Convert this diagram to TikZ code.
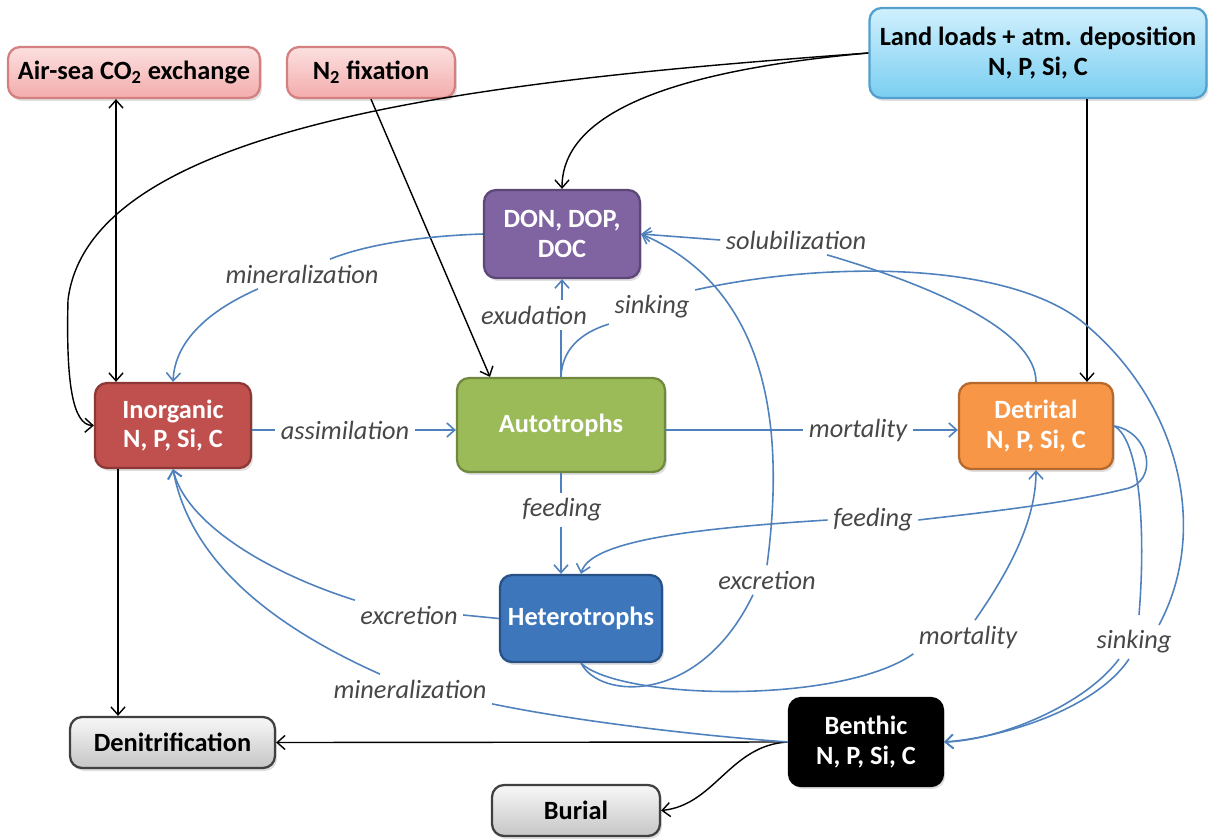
\documentclass[tikz,border=0pt]{standalone}
\usepackage{fontspec}
\setmainfont{Carlito}
\usetikzlibrary{arrows.meta,shadows}

\definecolor{linkblue}{RGB}{79,129,189}
\definecolor{pinktop}{RGB}{252,224,224}
\definecolor{pinkbot}{RGB}{243,172,172}
\definecolor{pinkline}{RGB}{212,128,128}
\definecolor{skytop}{RGB}{208,240,253}
\definecolor{skybot}{RGB}{122,206,241}
\definecolor{skyline}{RGB}{82,160,205}
\definecolor{donfill}{RGB}{128,100,162}
\definecolor{donline}{RGB}{92,71,118}
\definecolor{inorgfill}{RGB}{192,80,77}
\definecolor{inorgline}{RGB}{140,56,54}
\definecolor{autofill}{RGB}{155,187,89}
\definecolor{autoline}{RGB}{113,137,63}
\definecolor{detrfill}{RGB}{247,150,70}
\definecolor{detrline}{RGB}{182,105,44}
\definecolor{hetfill}{RGB}{62,118,188}
\definecolor{hetline}{RGB}{40,82,135}

\tikzset{
  box/.style={draw, rounded corners=0.24cm, line width=1.3pt, inner sep=0pt, align=center,
    font=\fontsize{15}{17}\selectfont\bfseries, text=white,
    drop shadow={opacity=0.25, shadow xshift=0.04cm, shadow yshift=-0.06cm}},
  pinkbox/.style={box, top color=pinktop, bottom color=pinkbot, draw=pinkline, text=black},
  skybox/.style={box, top color=skytop, bottom color=skybot, draw=skyline, text=black},
  graybox/.style={box, top color=gray!6, bottom color=gray!45, draw=black!75, text=black},
  lbl/.style={font=\fontsize{15}{17}\selectfont\itshape, text=black!72, inner sep=3pt},
  flowline/.style={draw=linkblue, line width=0.9pt},
  flow/.style={flowline, -{Straight Barb[length=4.5pt,width=8pt]}},
  arr/.style={draw=black, line width=0.8pt, -{Straight Barb[length=4.5pt,width=8pt]}},
  twoarr/.style={arr, {Straight Barb[length=4.5pt,width=8pt]}-{Straight Barb[length=4.5pt,width=8pt]}}
}

\begin{document}
\begin{tikzpicture}[x=0.02cm, y=-0.02cm]
  \useasboundingbox (0,0) rectangle (1208,839);

  \node[pinkbox, minimum width=5.04cm, minimum height=1.02cm] (airsea) at (134,72.5) {Air-sea CO\textsubscript{2} exchange};
  \node[pinkbox, minimum width=3.36cm, minimum height=1.02cm] (n2fix) at (371,72.5) {N\textsubscript{2} fixation};
  \node[skybox, minimum width=6.74cm, minimum height=1.80cm] (land) at (1038,53) {Land loads + atm. deposition\\N, P, Si, C};
  \node[box, fill=donfill, draw=donline, minimum width=3.12cm, minimum height=1.76cm] (don) at (562,234) {DON, DOP,\\DOC};
  \node[box, fill=inorgfill, draw=inorgline, minimum width=3.12cm, minimum height=1.70cm] (inorg) at (173,425.5) {Inorganic\\N, P, Si, C};
  \node[box, fill=autofill, draw=autoline, minimum width=4.16cm, minimum height=1.88cm] (auto) at (561,425) {Autotrophs};
  \node[box, fill=detrfill, draw=detrline, minimum width=3.08cm, minimum height=1.72cm] (detr) at (1036,426) {Detrital\\N, P, Si, C};
  \node[box, fill=hetfill, draw=hetline, minimum width=3.24cm, minimum height=1.74cm] (hetero) at (581,618.5) {Heterotrophs};
  \node[graybox, minimum width=4.10cm, minimum height=1.02cm] (denitr) at (172.5,742.5) {Denitrification};
  \node[graybox, minimum width=3.36cm, minimum height=1.02cm] (burial) at (576,810.5) {Burial};
  \node[box, fill=black, draw=black, minimum width=3.08cm, minimum height=1.76cm] (benthic) at (866,742) {Benthic\\N, P, Si, C};

  \node[lbl] (lminA) at (302,274) {mineralization};
  \node[lbl] (lexud) at (534,315) {exudation};
  \node[lbl] (lsinkA) at (652,307) {sinking};
  \node[lbl] (lsolu) at (796,240) {solubilization};
  \node[lbl] (lassim) at (345,430) {assimilation};
  \node[lbl] (lmortA) at (858,430) {mortality};
  \node[lbl] (lfeedA) at (562,510) {feeding};
  \node[lbl] (lfeedB) at (873,520) {feeding};
  \node[lbl] (lexcrA) at (409,615) {excretion};
  \node[lbl] (lexcrB) at (767,580) {excretion};
  \node[lbl] (lmortB) at (968,637) {mortality};
  \node[lbl] (lsinkB) at (1134,642) {sinking};
  \node[lbl] (lminB) at (410,689) {mineralization};

  \draw[twoarr] ([xshift=-0.36cm]airsea.south) -- ([xshift=-0.36cm]airsea.south |- inorg.north);
  \draw[arr] (n2fix.south) -- ([xshift=-1.42cm]auto.north);
  \draw[arr] (land.west) .. controls (500,80) and (90,120) .. (68,300) .. controls (66,380) and (72,425) .. (inorg.west);
  \draw[arr] (land.west) .. controls (680,70) and (562,110) .. (don.north);
  \draw[arr] ([xshift=0.98cm]land.south) -- ([xshift=0.98cm]land.south |- detr.north);
  \draw[arr] ([xshift=-1.1cm]inorg.south) -- ([xshift=-1.1cm]inorg.south |- denitr.north);
  \draw[arr] (benthic.west) -- (denitr.east);
  \draw[arr] (benthic.west) .. controls (730,745) and (715,805) .. (burial.east);

  \draw[flowline] (don.west) .. controls (420,236) and (365,245) .. ([xshift=0.56cm]lminA.north);
  \draw[flow] ([xshift=-0.88cm]lminA.south) .. controls (210,310) and (175,340) .. (inorg.north);
  \draw[flowline] (auto.north) -- (auto.north |- lexud.south);
  \draw[flow] (lexud.north -| don.south) -- (don.south);
  \draw[flowline] (auto.north) .. controls (562,350) and (580,333) .. (lsinkA.south west);
  \draw[flowline] (lsinkA.north east) .. controls (820,262) and (1000,260) .. (1080,320) .. controls (1180,400) and (1210,530) .. ([xshift=0.5cm]lsinkB.north);
  \draw[flow] ([xshift=-0.1cm]lsinkB.south) .. controls (1095,710) and (1000,738) .. (benthic.east);
  \draw[flowline] (detr.north) .. controls (1036,330) and (930,285) .. ([xshift=0.62cm]lsolu.south);
  \draw[flow] (lsolu.west) -- (don.east);
  \draw[flowline] (lassim.west -| inorg.east) -- (lassim.west);
  \draw[flow] (lassim.east) -- (lassim.east -| auto.west);
  \draw[flowline] (lmortA.west -| auto.east) -- (lmortA.west);
  \draw[flow] (lmortA.east) -- (lmortA.east -| detr.west);
  \draw[flowline] (auto.south) -- (auto.south |- lfeedA.north);
  \draw[flow] (auto.south |- lfeedA.south) -- (auto.south |- hetero.north);
  \draw[flowline] (detr.east) .. controls (1150,432) and (1160,482) .. (1125,489) .. controls (1060,505) and (960,515) .. (lfeedB.east);
  \draw[flow] (lfeedB.west) .. controls (700,528) and (590,540) .. (hetero.north);
  \draw[flowline] (detr.east) .. controls (1140,440) and (1146,530) .. ([xshift=0.1cm,yshift=0.2cm]lsinkB.north);
  \draw[flow] ([xshift=-0.3cm]lsinkB.south) .. controls (1085,705) and (1000,740) .. (benthic.east);
  \draw[flowline] (hetero.west) -- (lexcrA.east);
  \draw[flow] (lexcrA.north west) .. controls (260,570) and (185,520) .. (inorg.south);
  \draw[flowline] (benthic.west) .. controls (690,735) and (570,720) .. (lminB.south east);
  \draw[flow] ([xshift=-0.6cm]lminB.north) .. controls (270,625) and (190,560) .. (inorg.south);
  \draw[flowline] (hetero.south) .. controls (600,700) and (700,705) .. ([xshift=-0.28cm]lexcrB.south);
  \draw[flow] (lexcrB.north) .. controls (785,430) and (770,290) .. (don.east);
  \draw[flowline] (hetero.south) .. controls (620,700) and (840,705) .. (lmortB.south west);
  \draw[flow] ([xshift=0.14cm]lmortB.north) .. controls (1010,570) and (1036,520) .. (detr.south);
\end{tikzpicture}
\end{document}
